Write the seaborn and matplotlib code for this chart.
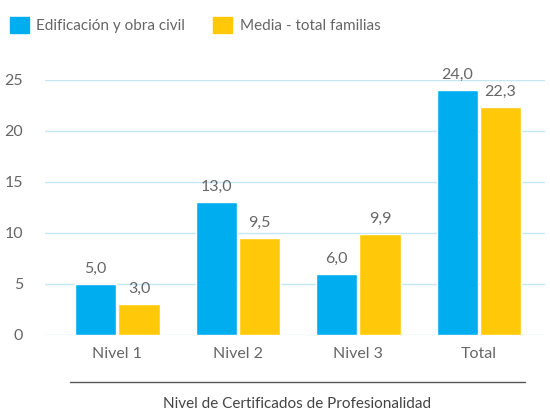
import pandas as pd
import matplotlib.pyplot as plt
import seaborn as sns
from matplotlib.lines import Line2D

# Datos
niveles = ['Nivel 1', 'Nivel 2', 'Nivel 3', 'Total']
edificacion = [5.0, 13.0, 6.0, 24.0]
media_familias = [3.0, 9.5, 9.9, 22.3]
series = ['Edificación y obra civil', 'Media - total familias']
colores = ['#00AEEF', '#FFC90A']

df = pd.DataFrame({
    'nivel': niveles * 2,
    'valor': edificacion + media_familias,
    'serie': [series[0]] * 4 + [series[1]] * 4,
})

sns.set_style('white')
plt.rcParams['font.family'] = ['Lato', 'DejaVu Sans']
gris = '#666666'

fig = plt.figure(figsize=(5.5, 4.12), dpi=100)
ax = fig.add_axes([0.082, 0.187, 0.909, 0.619])

sns.barplot(data=df, x='nivel', y='valor', hue='serie', palette=colores,
            width=0.72, gap=0.05, saturation=1, ax=ax, legend=False, zorder=3)

# Etiquetas de valor
for cont in ax.containers:
    labels = [f'{v:.1f}'.replace('.', ',') for v in cont.datavalues]
    ax.bar_label(cont, labels=labels, padding=6, color=gris, fontsize=11.5)

ax.set_ylim(0, 25)
ax.set_xlim(-0.6, 3.55)
ax.set_yticks(range(0, 26, 5))
ax.yaxis.grid(True, color='#C4E6F6', linewidth=1, zorder=0)
ax.set_axisbelow(True)
for s in ax.spines.values():
    s.set_visible(False)
ax.tick_params(axis='both', length=0, labelsize=11.5, labelcolor=gris)
ax.tick_params(axis='y', pad=16)
ax.tick_params(axis='x', pad=9)
ax.set_xlabel('')
ax.set_ylabel('')

# Línea y título del eje x
fig.add_artist(Line2D([70 / 550, 525 / 550], [1 - 382 / 412] * 2,
                      color='#555555', linewidth=1))
fig.text(297 / 550, 1 - 404 / 412, 'Nivel de Certificados de Profesionalidad',
         ha='center', va='center', color='#444444', fontsize=11)

# Leyenda
handles = [plt.Rectangle((0, 0), 1, 1, color=c) for c in colores]
fig.legend(handles, series, loc='upper left', bbox_to_anchor=(-0.013, 1.0),
           ncol=2, frameon=False, fontsize=11, labelcolor=gris,
           handlelength=1.25, handleheight=1.25, handletextpad=0.5,
           columnspacing=1.8, borderaxespad=0.7)

fig.savefig('out.png', dpi=100)
